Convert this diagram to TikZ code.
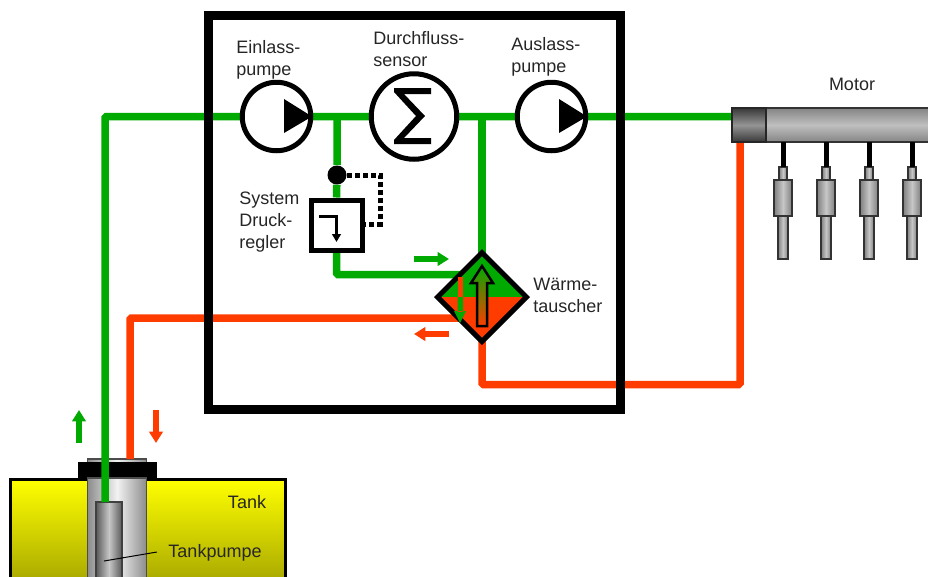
\documentclass[tikz,border=0pt]{standalone}
\usepackage{fontspec}
\setmainfont{Liberation Sans}
\usetikzlibrary{shapes.geometric,arrows.meta,backgrounds}
\definecolor{pgreen}{HTML}{00AA00}
\definecolor{pred}{HTML}{FF3C00}
\def\u{0.75pt}
\pgfdeclarelayer{pipes}
\pgfdeclarelayer{back}
\pgfsetlayers{back,pipes,main}
\tikzset{
  pipegreen/.style={draw=pgreen,line width=7.5*\u,rounded corners=1.5*\u},
  pipered/.style={draw=pred,line width=7.5*\u,rounded corners=1.5*\u},
  flowgreen/.style={draw=pgreen,line width=4.7pt,-{Triangle[length=8.5pt,width=10pt]}},
  flowred/.style={draw=pred,line width=4.7pt,-{Triangle[length=8.5pt,width=10pt]}},
  lab/.style={anchor=west,align=left,inner sep=0pt,font=\fontsize{13.5pt}{16.5pt}\selectfont,text=black!85},
  pumpcirc/.style={circle,draw=black,fill=white,line width=5*\u,inner sep=0pt,minimum size=68.5*\u},
  railbar/.style={draw=black!80,line width=1.5*\u,inner sep=0pt,outer sep=0pt,top color=black!48,bottom color=black!48,middle color=black!25},
  railend/.style={draw=black!85,line width=1.5*\u,inner sep=0pt,outer sep=0pt,top color=black!78,bottom color=black!78,middle color=black!42},
  metal/.style={draw=black!80,line width=1.5*\u,inner sep=0pt,outer sep=0pt,left color=black!50,right color=black!50,middle color=black!22},
  hbar/.style={draw=black!75,line width=1.5*\u,inner sep=0pt,outer sep=0pt,left color=black!65,right color=black!65,middle color=black!22},
  tubebar/.style={draw=black!70,line width=1.2*\u,inner sep=0pt,outer sep=0pt,left color=black!45,right color=black!45,middle color=black!5},
  stem/.style={draw=black,line width=5*\u},
}
\newcommand{\injector}[2]{%
  \coordinate (#2top) at (#1,142);
  \node[metal,anchor=north,minimum width=8*\u,minimum height=13*\u] (#2a) at (#1,167) {};
  \node[metal,anchor=north,minimum width=10*\u,minimum height=43*\u] (#2c) at (#1,216) {};
  \node[metal,anchor=north,minimum width=18*\u,minimum height=36*\u] (#2b) at (#1,180) {};
  \draw[stem] (#2top) -- (#2a.north);
}
\begin{document}
\begin{tikzpicture}[x=0.75pt,y=-0.75pt]
\useasboundingbox (0,0) rectangle (928,576);
\clip (0,0) rectangle (928,576);
% frame
\node[draw=black,line width=9*\u,inner sep=0pt,minimum width=412*\u,minimum height=394*\u] (frame) at (414,212.5) {};
% tank
\begin{pgfonlayer}{back}
\path[draw=black,line width=3*\u,top color=yellow,bottom color=yellow!60!black] (10.5,479.5) rectangle (285,600);
\node[tubebar,anchor=north,minimum width=59*\u,minimum height=8*\u] (cap) at (117,459) {};
\node[fill=black,inner sep=0pt,anchor=north,minimum width=79*\u,minimum height=16*\u] (flange) at (117.5,462) {};
\node[tubebar,anchor=north,minimum width=59*\u,minimum height=130*\u] (tube) at (117,478) {};
\node[hbar,anchor=north,minimum width=26*\u,minimum height=110*\u] (tpump) at (109,502) {};
\coordinate (tpl) at (104,561);
\coordinate (tpr) at (157,552);
\draw[black,line width=1*\u] (tpl) -- (tpr);
\end{pgfonlayer}
\node[lab,anchor=center] (tanklab) at (247,502) {Tank};
\node[lab,anchor=center] (tplab) at (215,553) {Tankpumpe};
% rail
\node[railbar,anchor=north west,minimum width=200*\u,minimum height=34*\u] (rail) at (732,108) {};
\node[railend,anchor=north west,minimum width=34*\u,minimum height=34*\u] (railin) at (732,108) {};
\injector{783}{ia}
\injector{826}{ib}
\injector{869}{ic}
\injector{912}{id}
% components
\node[pumpcirc] (p1) at (276.5,116.5) {};
\node[pumpcirc,minimum size=85.5*\u] (sens) at (414,116.5) {};
\node[pumpcirc] (p2) at (551.5,116.5) {};
\fill[black] (284,99) -- (312,116.5) -- (284,133) -- cycle;
\fill[black] (559,99) -- (587,116.5) -- (559,133) -- cycle;
\fill[black] (431,88) -- (394,88) -- (394,92) -- (416,116) -- (394,140) -- (394,144) -- (431,144) -- (431,138) -- (404,138) -- (425,116) -- (404,94) -- (431,94) -- cycle;
\node[draw=black,fill=white,line width=5*\u,inner sep=0pt,minimum width=51*\u,minimum height=50*\u] (reg) at (336.5,225) {};
\draw[black,line width=3*\u,-{Triangle[length=6pt,width=6.5pt]}] (319,216.5) -- (336.5,216.5) -- (336.5,242);
\node[circle,fill=black,inner sep=0pt,minimum size=19*\u] (dot) at (337,175) {};
\coordinate (d1) at (380,175);
\coordinate (d2) at (380,224);
\draw[black,line width=5*\u,dash pattern=on 5*\u off 3*\u] (dot) -- (d1) -- (d2) -- (reg.east |- d2);
% heat exchanger
\node[diamond,draw=black,line width=5*\u,inner sep=0pt,aspect=1,minimum width=91*\u,minimum height=91*\u,
  path picture={
    \fill[pgreen] (-60,-60) rectangle (60,0);
    \fill[pred] (-60,0) rectangle (60,60);
  }] (hx) at (482,297) {};
\fill[pred] (457.5,277) rectangle (463,297);
\fill[pgreen] (457.5,297) rectangle (463,312) (454,311) -- (466,311) -- (460,323) -- cycle;
\path[draw=black,line width=2.5*\u,line join=miter,bottom color=pred,top color=pgreen]
  (477,326) -- (487,326) -- (487,283) -- (493,283) -- (482,266) -- (471,283) -- (477,283) -- cycle;
% labels
\node[lab] (l1) at (236,60) {Einlass-\\pumpe};
\node[lab] (l2) at (373,49) {Durchfluss-\\sensor};
\node[lab] (l3) at (511,57) {Auslass-\\pumpe};
\node[lab] (l4) at (239,222) {System\\Druck-\\regler};
\node[lab] (l5) at (533,295) {Wärme-\\tauscher};
\node[lab,anchor=center] (l6) at (852,84) {Motor};
% flow arrows
\coordinate (fa1) at (79,443); \coordinate (fa2) at (79,410);
\coordinate (fb1) at (156,410); \coordinate (fb2) at (156,443);
\coordinate (fc1) at (414,259); \coordinate (fc2) at (449,259);
\coordinate (fd1) at (449,334); \coordinate (fd2) at (414,334);
\draw[flowgreen] (fa1) -- (fa2);
\draw[flowred] (fb1) -- (fb2);
\draw[flowgreen] (fc1) -- (fc2);
\draw[flowred] (fd1) -- (fd2);
% pipes
\coordinate (gcorner) at (105,116.5);
\coordinate (rcorner) at (130,318);
\coordinate (rbot) at (482,384.5);
\coordinate (rright) at (740,384.5);
\coordinate (gin) at (470,274.5);
\coordinate (rin) at (470,318);
\begin{pgfonlayer}{pipes}
\draw[pipegreen] (tpump.north -| gcorner) -- (gcorner) -- (railin.west |- gcorner);
\draw[pipegreen] (dot |- gcorner) -- (dot) -- (reg.north);
\draw[pipegreen] (reg.south) -- (reg.south |- gin) -- (gin);
\draw[pipegreen] (hx.center |- gcorner) -- (hx.center);
\draw[pipered] (rin) -- (rcorner) -- (cap.north -| rcorner);
\draw[pipered] (hx.center) -- (rbot) -- (rright) -- (rail.south -| rright);
\end{pgfonlayer}
\end{tikzpicture}
\end{document}
